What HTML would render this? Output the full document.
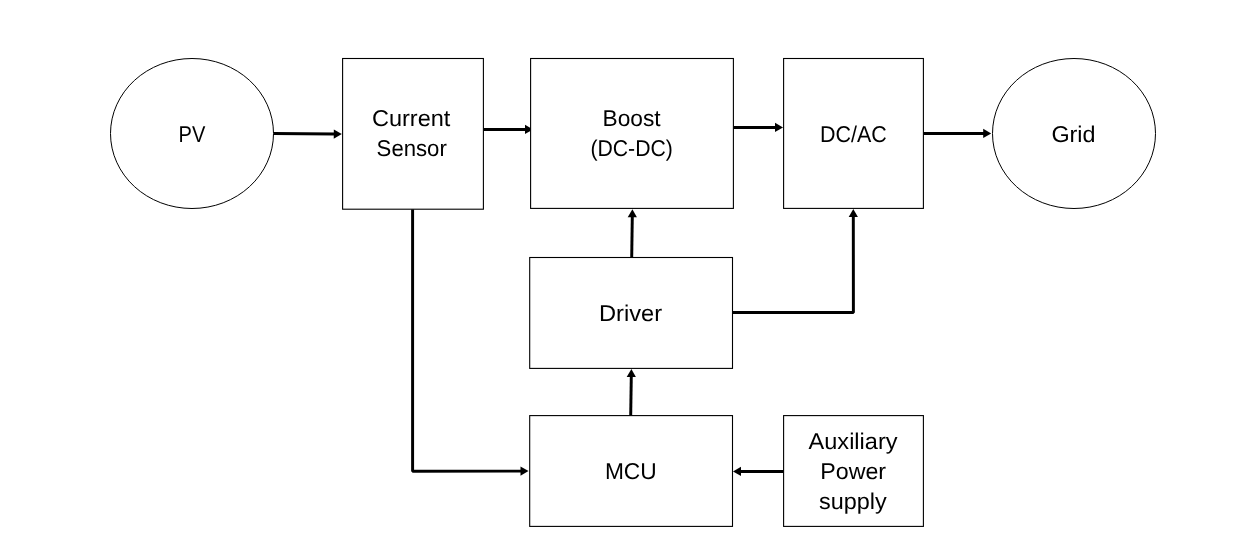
<!DOCTYPE html>
<html><head><meta charset="utf-8"><title>PV inverter block diagram</title>
<style>
html,body{margin:0;padding:0;background:#fff;width:1236px;height:549px;overflow:hidden}
text{font-family:"Liberation Sans",sans-serif;font-size:22.80px;fill:#000;text-rendering:geometricPrecision}
</style></head><body><svg width="1236" height="549" viewBox="0 0 1236 549" style="display:block;will-change:transform"><polyline points="273.50,133.50 334.80,134.04" fill="none" stroke="#000" stroke-width="2.95" stroke-linejoin="bevel" stroke-linecap="butt"/><polygon points="341.80,134.10 333.76,138.63 333.84,129.43" fill="#000"/><polyline points="483.40,129.40 526.00,129.40" fill="none" stroke="#000" stroke-width="2.95" stroke-linejoin="bevel" stroke-linecap="butt"/><polygon points="533.00,129.40 525.00,134.00 525.00,124.80" fill="#000"/><polyline points="733.40,127.40 776.00,127.40" fill="none" stroke="#000" stroke-width="2.95" stroke-linejoin="bevel" stroke-linecap="butt"/><polygon points="783.00,127.40 775.00,132.00 775.00,122.80" fill="#000"/><polyline points="923.40,133.40 984.20,133.40" fill="none" stroke="#000" stroke-width="2.95" stroke-linejoin="bevel" stroke-linecap="butt"/><polygon points="991.20,133.40 983.20,138.00 983.20,128.80" fill="#000"/><polyline points="631.70,257.50 632.30,216.20" fill="none" stroke="#000" stroke-width="2.95" stroke-linejoin="bevel" stroke-linecap="butt"/><polygon points="632.40,209.20 636.88,217.27 627.68,217.13" fill="#000"/><polyline points="732.50,312.40 853.40,312.40 853.31,216.00" fill="none" stroke="#000" stroke-width="2.95" stroke-linejoin="bevel" stroke-linecap="butt"/><polygon points="853.30,209.00 857.91,217.00 848.71,217.00" fill="#000"/><polyline points="630.70,415.60 631.29,376.00" fill="none" stroke="#000" stroke-width="2.95" stroke-linejoin="bevel" stroke-linecap="butt"/><polygon points="631.40,369.00 635.88,377.07 626.68,376.93" fill="#000"/><polyline points="412.60,209.20 412.60,471.20 521.50,471.11" fill="none" stroke="#000" stroke-width="2.95" stroke-linejoin="bevel" stroke-linecap="butt"/><polygon points="528.50,471.10 520.50,475.71 520.50,466.51" fill="#000"/><polyline points="783.60,471.40 740.00,471.40" fill="none" stroke="#000" stroke-width="2.95" stroke-linejoin="bevel" stroke-linecap="butt"/><polygon points="733.00,471.40 741.00,466.80 741.00,476.00" fill="#000"/><rect x="342.60" y="58.50" width="140.80" height="150.70" fill="#fff" stroke="#000" stroke-width="1.10"/><rect x="530.60" y="58.50" width="202.80" height="149.90" fill="#fff" stroke="#000" stroke-width="1.10"/><rect x="783.60" y="58.50" width="139.80" height="149.90" fill="#fff" stroke="#000" stroke-width="1.10"/><rect x="529.70" y="257.50" width="202.80" height="110.90" fill="#fff" stroke="#000" stroke-width="1.10"/><rect x="529.70" y="415.60" width="202.80" height="110.80" fill="#fff" stroke="#000" stroke-width="1.10"/><rect x="783.60" y="415.60" width="139.80" height="110.80" fill="#fff" stroke="#000" stroke-width="1.10"/><ellipse cx="192.00" cy="133.50" rx="81.50" ry="75.00" fill="#fff" stroke="#000" stroke-width="1.00"/><ellipse cx="1074.00" cy="133.50" rx="81.50" ry="75.00" fill="#fff" stroke="#000" stroke-width="1.00"/><text transform="translate(191.96 141.60) scale(0.8803 1)" text-anchor="middle">PV</text><text transform="translate(411.17 126.40) scale(1.0317 1)" text-anchor="middle">Current</text><text transform="translate(411.70 156.20) scale(0.9715 1)" text-anchor="middle">Sensor</text><text transform="translate(631.56 125.70) scale(0.9974 1)" text-anchor="middle">Boost</text><text transform="translate(631.64 155.60) scale(0.9301 1)" text-anchor="middle">(DC-DC)</text><text transform="translate(853.45 141.90) scale(0.9417 1)" text-anchor="middle">DC/AC</text><text transform="translate(1073.46 141.85) scale(1.0251 1)" text-anchor="middle">Grid</text><text transform="translate(630.53 320.80) scale(1.0367 1)" text-anchor="middle">Driver</text><text transform="translate(630.81 478.70) scale(0.9976 1)" text-anchor="middle">MCU</text><text transform="translate(853.05 448.70) scale(1.0319 1)" text-anchor="middle">Auxiliary</text><text transform="translate(853.18 478.70) scale(1.0187 1)" text-anchor="middle">Power</text><text transform="translate(852.79 509.40) scale(1.0270 1)" text-anchor="middle">supply</text></svg></body></html>
